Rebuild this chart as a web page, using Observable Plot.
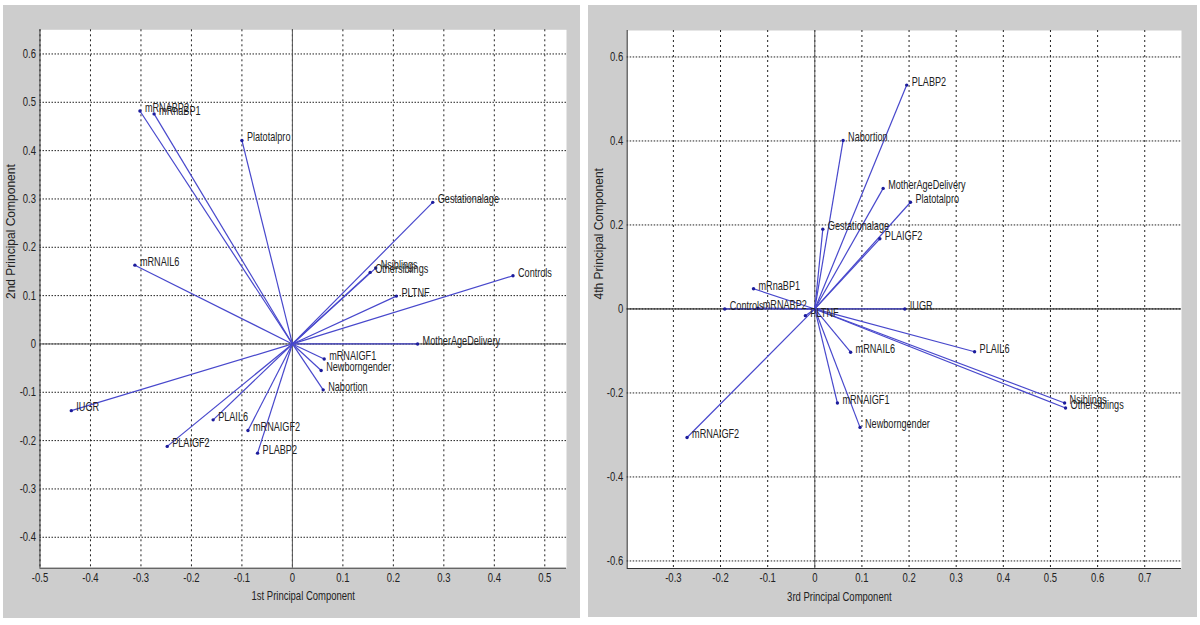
<!DOCTYPE html>
<html><head><meta charset="utf-8">
<script src="https://cdn.jsdelivr.net/npm/d3@7"></script>
<script src="https://cdn.jsdelivr.net/npm/@observablehq/plot@0.6"></script>
<style>
body{margin:0;background:#fff;width:1200px;height:625px;overflow:hidden;position:relative;}
.panel{position:absolute;background:#cdcdcd;}
.panel svg{display:block;}
</style></head><body>
<div id="p1" class="panel" style="left:3px;top:5px;width:577px;height:613px"></div>
<div id="p2" class="panel" style="left:588px;top:5px;width:609px;height:612px"></div>
<script>
// Left biplot: 1st vs 2nd principal component
const namesL = ["mRNABP2","mRnaBP1","Platotalpro","mRNAIL6","Gestationalage","Nsiblings","Othersiblings","PLTNF","Controls","MotherAgeDelivery","mRNAIGF1","Newborngender","Nabortion","IUGR","PLAIL6","PLAIGF2","mRNAIGF2","PLABP2"];
const pc1 = [-0.302,-0.274,-0.100,-0.312,0.278,0.165,0.154,0.206,0.437,0.248,0.063,0.057,0.061,-0.438,-0.157,-0.248,-0.088,-0.069];
const pc2 = [0.482,0.476,0.421,0.163,0.293,0.157,0.148,0.099,0.141,0.000,-0.031,-0.055,-0.095,-0.138,-0.157,-0.212,-0.179,-0.226];

// Right biplot: 3rd vs 4th principal component
const namesR = ["PLABP2","Nabortion","MotherAgeDelivery","Platotalpro","Gestationalage","PLAIGF2","mRnaBP1","Controls","mRNABP2","PLTNF","IUGR","PLAIL6","mRNAIL6","mRNAIGF1","Newborngender","Nsiblings","Othersiblings","mRNAIGF2"];
const pc3 = [0.195,0.060,0.145,0.203,0.017,0.138,-0.130,-0.191,-0.121,-0.020,0.191,0.339,0.076,0.048,0.096,0.530,0.532,-0.271];
const pc4 = [0.533,0.401,0.287,0.254,0.190,0.167,0.048,0.000,0.002,-0.016,0.000,-0.102,-0.103,-0.224,-0.282,-0.224,-0.236,-0.306];

const xTicksL = [-0.5,-0.4,-0.3,-0.2,-0.1,0,0.1,0.2,0.3,0.4,0.5];
const yTicksL = [-0.4,-0.3,-0.2,-0.1,0,0.1,0.2,0.3,0.4,0.5,0.6];
const xTicksR = [-0.3,-0.2,-0.1,0,0.1,0.2,0.3,0.4,0.5,0.6,0.7];
const yTicksR = [-0.6,-0.4,-0.2,0,0.2,0.4,0.6];

const font = "'Liberation Sans',Arial,sans-serif";
const fmt = d => String(Math.round(d * 10) / 10);

function biplot(cfg) {
  const data = cfg.names.map((n, i) => ({name: n, x: cfg.xs[i], y: cfg.ys[i]}));
  const svg = Plot.plot({
    width: cfg.width, height: cfg.height,
    marginLeft: cfg.m[0], marginRight: cfg.m[1], marginTop: cfg.m[2], marginBottom: cfg.m[3],
    x: {domain: cfg.xDomain},
    y: {domain: cfg.yDomain},
    style: {background: "transparent", fontFamily: font, fontSize: "11px", color: "#222"},
    marks: [
      Plot.frame({fill: "white", stroke: null}),
      Plot.ruleX(cfg.xTicks, {stroke: "#222", strokeDasharray: "2,3", strokeWidth: 1}),
      Plot.ruleY(cfg.yTicks, {stroke: "#222", strokeDasharray: "1.5,1.5", strokeWidth: 1}),
      Plot.ruleX([0], {stroke: "#555", strokeWidth: 1}),
      Plot.ruleY([0], {stroke: cfg.zeroY, strokeWidth: 1}),
      Plot.ruleX([cfg.xDomain[0]], {stroke: "#333", strokeWidth: 1}),
      Plot.ruleY([cfg.yDomain[0]], {stroke: "#333", strokeWidth: 1}),
      Plot.link(data, {x1: d => 0, y1: d => 0, x2: "x", y2: "y", stroke: "#4848cc", strokeWidth: 1.2}),
      Plot.dot(data, {x: "x", y: "y", r: 1.7, fill: "#1c1c9c", stroke: null}),
      Plot.text(data, {x: "x", y: "y", text: "name", dx: 5, dy: -3, textAnchor: "start", fill: "#222", fontSize: 12}),
      Plot.axisX({ticks: cfg.xTicks, tickSize: 0, tickPadding: 5, tickFormat: fmt, label: null, fontSize: 12.5}),
      Plot.axisY({ticks: cfg.yTicks, tickSize: 0, tickPadding: 4, tickFormat: fmt, label: null, fontSize: 12.5}),
      Plot.text([cfg.xLabel], {frameAnchor: "bottom", dy: 28, dx: cfg.xLabelDx, text: d => d, lineAnchor: "middle", fontSize: 12.5, fill: "#222"}),
      Plot.text([cfg.yLabel], {frameAnchor: "left", dx: -28.5, rotate: -90, text: d => d, lineAnchor: "middle", fontSize: 12, fill: "#222"})
    ]
  });
  // horizontally condense non-rotated texts (the reference uses a narrow face)
  svg.querySelectorAll("text").forEach(t => {
    let tr = t.getAttribute("transform") || "";
    if (tr.includes("rotate")) return;
    const xa = t.getAttribute("x");
    if (xa !== null && isFinite(+xa)) {
      t.removeAttribute("x");
      tr = `translate(${+xa},0) ` + tr;
    }
    t.setAttribute("transform", tr + " scale(0.76,1)");
  });
  return svg;
}

document.getElementById("p1").append(biplot({
  names: namesL, xs: pc1, ys: pc2,
  width: 577, height: 613, m: [36.5, 14, 24.3, 50.3],
  xDomain: [-0.5, 0.543], yDomain: [-0.464, 0.65],
  xTicks: xTicksL, yTicks: yTicksL, zeroY: "#555",
  xLabel: "1st Principal Component", xLabelDx: 0,
  yLabel: "2nd Principal Component"
}));

document.getElementById("p2").append(biplot({
  names: namesR, xs: pc3, ys: pc4,
  width: 609, height: 612, m: [38.7, 16, 25, 49],
  xDomain: [-0.398, 0.778], yDomain: [-0.618, 0.663],
  xTicks: xTicksR, yTicks: yTicksR, zeroY: "#111",
  xLabel: "3rd Principal Component", xLabelDx: -65,
  yLabel: "4th Principal Component"
}));
</script>
</body></html>
